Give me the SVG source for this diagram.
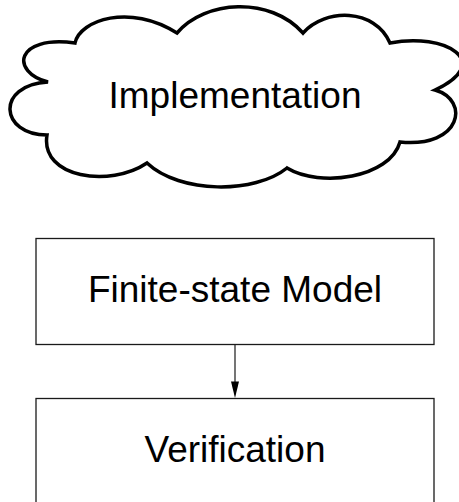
<svg xmlns="http://www.w3.org/2000/svg" width="459" height="502" viewBox="0 0 459 502">
<style>
.lbl{font-family:"Liberation Sans",Arial,sans-serif;font-size:37px;fill:#000;text-anchor:middle}
.box{fill:#fff;stroke:#1a1a1a;stroke-width:1.3}
.cloud{fill:#fff;stroke:#000;stroke-width:3.5;stroke-linejoin:miter}
.conn{stroke:#1a1a1a;stroke-width:1.2;fill:none}
.head{fill:#000}
</style>
<rect width="459" height="502" fill="#fff"/>
<g id="implementation">
<path class="cloud" d="M75,43 C80,20 130,3 177,33 C205,0 270,-4 303,33 C325,8 375,8 390,43 C445,32 495,62 435,90 C470,100 462,148 400,142 C390,178 320,188 287,168 C255,194 180,194 147,163 C110,188 40,178 47,135 C0,135 -5,85 48,82 C10,72 15,35 75,43 Z"/>
<text class="lbl" x="235" y="108">Implementation</text>
</g>
<g id="finite-state-model">
<rect class="box" x="36" y="238.5" width="398" height="106"/>
<text class="lbl" x="235" y="302">Finite-state Model</text>
</g>
<g id="verification">
<rect class="box" x="36" y="398.5" width="398" height="130"/>
<text class="lbl" x="235" y="462">Verification</text>
</g>
<g id="connectors">
<path class="conn" d="M235,344.5 L235,383"/>
<polygon class="head" points="231,381.5 239,381.5 235,398"/>
</g>
</svg>
